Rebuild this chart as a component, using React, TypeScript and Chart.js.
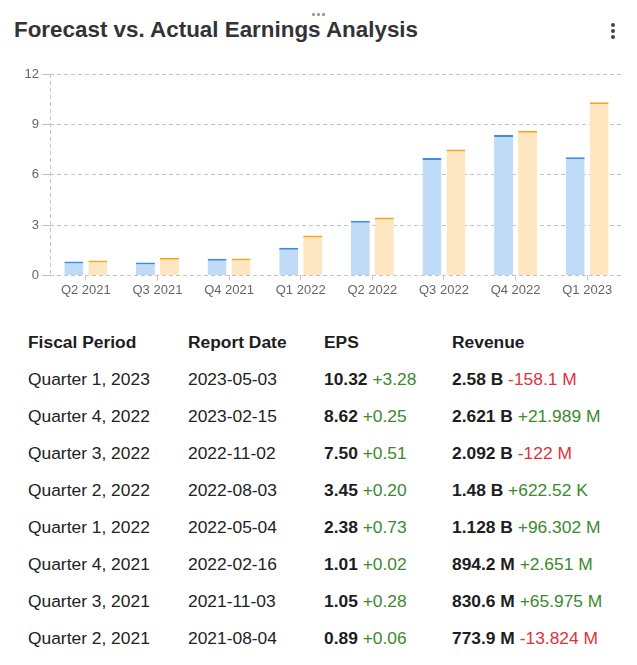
import React, { useEffect, useRef } from "react";
import { Chart, registerables } from "chart.js";

Chart.register(...registerables);

const categories = ["Q2 2021", "Q3 2021", "Q4 2021", "Q1 2022", "Q2 2022", "Q3 2022", "Q4 2022", "Q1 2023"];
const forecastEps = [0.83, 0.77, 0.99, 1.65, 3.25, 6.99, 8.37, 7.04];
const actualEps = [0.89, 1.05, 1.01, 2.38, 3.45, 7.5, 8.62, 10.32];
const yTicks = [0, 3, 6, 9, 12];

const tableHeaders = ["Fiscal Period", "Report Date", "EPS", "Revenue"];
const fiscalPeriods = ["Quarter 1, 2023", "Quarter 4, 2022", "Quarter 3, 2022", "Quarter 2, 2022", "Quarter 1, 2022", "Quarter 4, 2021", "Quarter 3, 2021", "Quarter 2, 2021"];
const reportDates = ["2023-05-03", "2023-02-15", "2022-11-02", "2022-08-03", "2022-05-04", "2022-02-16", "2021-11-03", "2021-08-04"];
const epsValues = ["10.32", "8.62", "7.50", "3.45", "2.38", "1.01", "1.05", "0.89"];
const epsSurprises = ["+3.28", "+0.25", "+0.51", "+0.20", "+0.73", "+0.02", "+0.28", "+0.06"];
const revenueValues = ["2.58 B", "2.621 B", "2.092 B", "1.48 B", "1.128 B", "894.2 M", "830.6 M", "773.9 M"];
const revenueSurprises = ["-158.1 M", "+21.989 M", "-122 M", "+622.52 K", "+96.302 M", "+2.651 M", "+65.975 M", "-13.824 M"];

const FONT = '"Liberation Sans", Arial, sans-serif';
const GREEN = "#3b8a2e";
const RED = "#e0313c";

const dashedLeftAxis = {
  id: "dashedLeftAxis",
  afterDatasetsDraw(chart: any) {
    const { ctx, chartArea } = chart;
    ctx.save();
    ctx.strokeStyle = "#c4c4c4";
    ctx.lineWidth = 1;
    ctx.setLineDash([4, 3]);
    const x = Math.round(chartArea.left) + 0.5;
    ctx.beginPath();
    ctx.moveTo(x, chartArea.top);
    ctx.lineTo(x, chartArea.bottom);
    ctx.stroke();
    ctx.restore();
  },
};

function EpsChart() {
  const ref = useRef<HTMLCanvasElement | null>(null);
  useEffect(() => {
    if (!ref.current) return;
    const chart = new Chart(ref.current, {
      type: "bar",
      data: {
        labels: categories,
        datasets: [
          {
            label: "Forecast",
            data: forecastEps,
            backgroundColor: "#c0dbf7",
            borderColor: "#3d8ce6",
            borderWidth: { top: 2, left: 0, right: 0, bottom: 0 },
            borderSkipped: false,
            barPercentage: 0.79,
            categoryPercentage: 0.67,
          },
          {
            label: "Actual",
            data: actualEps,
            backgroundColor: "#fee6c0",
            borderColor: "#f8a41f",
            borderWidth: { top: 2, left: 0, right: 0, bottom: 0 },
            borderSkipped: false,
            barPercentage: 0.79,
            categoryPercentage: 0.67,
          },
        ],
      },
      options: {
        animation: false,
        responsive: false,
        maintainAspectRatio: false,
        layout: { padding: { top: 14, right: 6, left: 0, bottom: 0 } },
        plugins: { legend: { display: false }, tooltip: { enabled: false } },
        scales: {
          x: {
            grid: { display: true, drawOnChartArea: false, drawTicks: true, tickLength: 5, offset: false, color: "#c8c8c8" },
            border: { display: false },
            ticks: { color: "#666", padding: 2, font: { family: FONT, size: 13 }, maxRotation: 0, autoSkip: false },
          },
          y: {
            min: 0,
            max: 12,
            afterBuildTicks: (scale: any) => {
              scale.ticks = yTicks.map((v) => ({ value: v }));
            },
            afterFit: (scale: any) => {
              scale.width = 42;
            },
            grid: { color: "#c4c4c4", lineWidth: 1, drawTicks: true, tickLength: 8 },
            border: { display: false, dash: [4, 3] },
            ticks: { color: "#666", padding: 3, font: { family: FONT, size: 13 } },
          },
        },
      },
      plugins: [dashedLeftAxis],
    });
    return () => chart.destroy();
  }, []);
  return <canvas ref={ref} width={621} height={240} style={{ position: "absolute", left: 0, top: 52, width: 621, height: 240 }} />;
}

const dot = (left: number, top: number, size: number, color: string) => (
  <div style={{ position: "absolute", left, top, width: size, height: size, borderRadius: size / 2, background: color }} />
);

export default function App() {
  const colLefts = [20, 180, 316, 444];
  const headerTop = 316;
  const rowH = 37;
  const fs = 17.4;
  return (
    <div style={{ position: "relative", width: 621, height: 649, fontFamily: FONT, color: "#222" }}>
      {dot(304, 5, 2.5, "#9a9a9a")}
      {dot(309, 5, 2.5, "#9a9a9a")}
      {dot(314, 5, 2.5, "#9a9a9a")}
      <div style={{ position: "absolute", left: 6, top: 7, fontSize: 22.4, lineHeight: "30px", fontWeight: "bold", color: "#333", whiteSpace: "nowrap" }}>
        Forecast vs. Actual Earnings Analysis
      </div>
      {dot(603, 15, 4, "#444")}
      {dot(603, 21, 4, "#444")}
      {dot(603, 27, 4, "#444")}
      <EpsChart />
      {tableHeaders.map((h, i) => (
        <div key={h} style={{ position: "absolute", left: colLefts[i], top: headerTop, height: rowH, lineHeight: rowH + "px", fontSize: fs, fontWeight: "bold", color: "#1d1d1d", whiteSpace: "nowrap" }}>
          {h}
        </div>
      ))}
      {fiscalPeriods.map((p, r) => {
        const top = headerTop + rowH * (r + 1) - 0.5;
        const cell = (i: number, content: React.ReactNode) => (
          <div style={{ position: "absolute", left: colLefts[i], top, height: rowH, lineHeight: rowH + "px", fontSize: fs, whiteSpace: "nowrap" }}>{content}</div>
        );
        const eSur = epsSurprises[r];
        const rSur = revenueSurprises[r];
        return (
          <React.Fragment key={p}>
            {cell(0, p)}
            {cell(1, reportDates[r])}
            {cell(2, <><b style={{ color: "#1d1d1d" }}>{epsValues[r]}</b> <span style={{ color: eSur.startsWith("-") ? RED : GREEN }}>{eSur}</span></>)}
            {cell(3, <><b style={{ color: "#1d1d1d" }}>{revenueValues[r]}</b> <span style={{ color: rSur.startsWith("-") ? RED : GREEN }}>{rSur}</span></>)}
          </React.Fragment>
        );
      })}
    </div>
  );
}
